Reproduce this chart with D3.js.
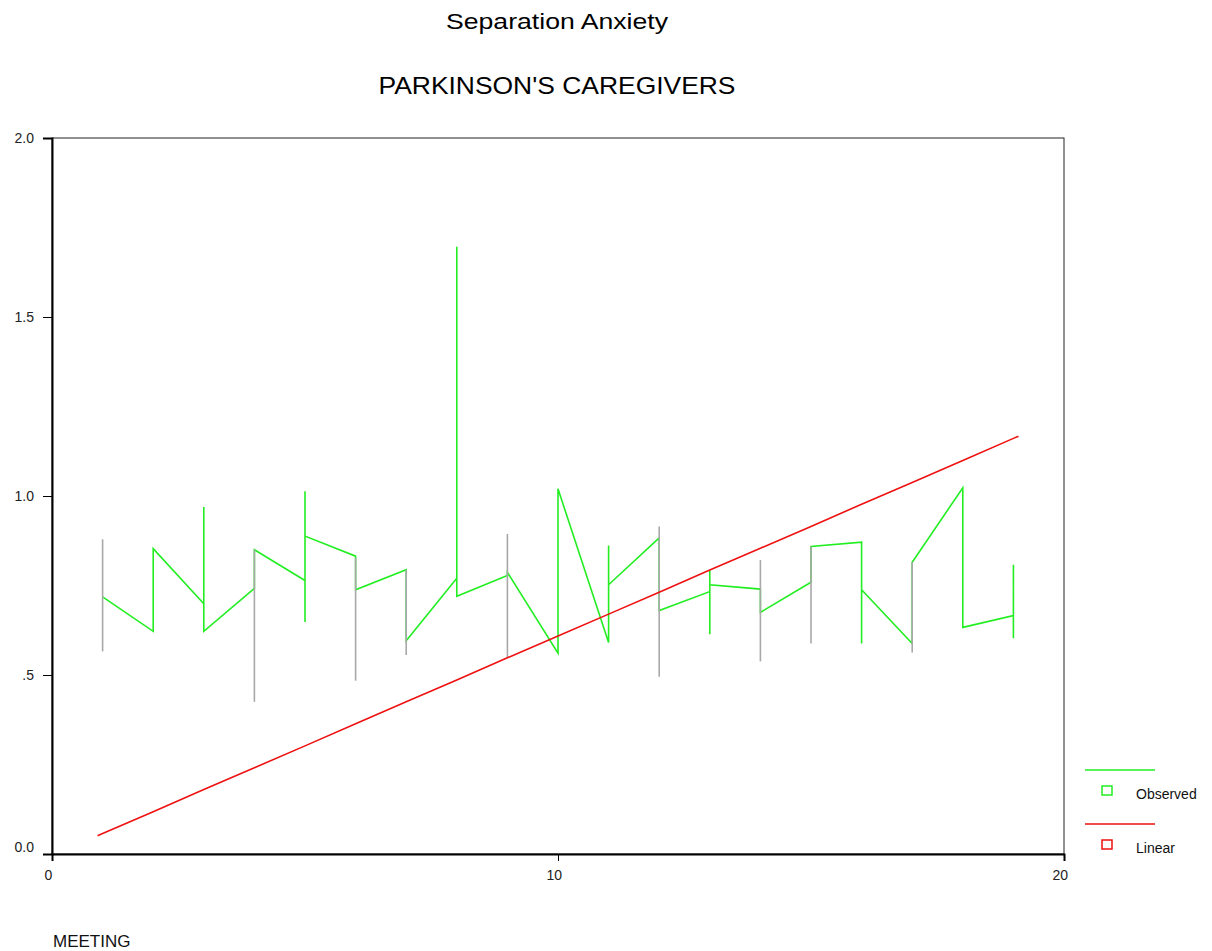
<!DOCTYPE html>
<html>
<head>
<meta charset="utf-8">
<style>
  body { margin: 0; background: #fff; }
  svg { font-family: "Liberation Sans", Arial, sans-serif; }
</style>
</head>
<body>
<div id="container"></div>
<script src="https://d3js.org/d3.v7.js"></script>
<script>
// Observed curve: cases in file order (several per meeting)
const obsMeeting = [1, 2, 2, 3, 3, 3, 4, 4, 5, 5, 5, 5, 6, 6, 7, 7, 8, 8, 8, 9, 9, 10, 10,
  11, 11, 11, 12, 12, 13, 13, 13, 13, 14, 14, 15, 15, 16, 16, 16, 17, 17, 18, 18, 19, 19, 19];
const obsValue = [0.718, 0.622, 0.853, 0.699, 0.969, 0.622, 0.742, 0.850, 0.764, 1.013, 0.648, 0.888,
  0.832, 0.738, 0.794, 0.596, 0.770, 1.696, 0.720, 0.778, 0.787, 0.561, 1.020,
  0.591, 0.862, 0.752, 0.883, 0.680, 0.733, 0.614, 0.792, 0.752, 0.740, 0.675,
  0.759, 0.859, 0.871, 0.588, 0.738, 0.588, 0.815, 1.023, 0.633, 0.666, 0.808, 0.603];

// high-low lines shown in grey
const rangeMeeting = [1, 4, 6, 7, 9, 12, 14, 15, 17];
const rangeLow = [0.566, 0.425, 0.484, 0.556, 0.549, 0.495, 0.538, 0.588, 0.563];
const rangeHigh = [0.879, 0.850, 0.827, 0.794, 0.894, 0.915, 0.821, 0.859, 0.815];

// Linear fit
const fitMeeting = [0.9, 1, 2, 3, 4, 5, 6, 7, 8, 9, 10, 11, 12, 13, 14, 15, 16, 17, 18, 19, 19.1];
const fitValue = [0.051, 0.057, 0.118, 0.180, 0.241, 0.302, 0.364, 0.425, 0.486, 0.548, 0.609,
  0.670, 0.731, 0.793, 0.854, 0.915, 0.977, 1.038, 1.099, 1.161, 1.167];

const xTicks = [0, 10, 20];
const yTicks = [0, 0.5, 1.0, 1.5, 2.0];
const yTickLabels = ["0.0", ".5", "1.0", "1.5", "2.0"];

const width = 1212;
const height = 951;
const marginLeft = 52;
const marginRight = 148;
const marginTop = 138;
const marginBottom = 97;

const x = d3.scaleLinear().domain([0, 20]).range([marginLeft, width - marginRight]);
const y = d3.scaleLinear().domain([0, 2]).range([height - marginBottom, marginTop]);

const svg = d3.create("svg")
    .attr("width", width)
    .attr("height", height);

// titles
svg.append("text")
    .attr("x", 557).attr("y", 29)
    .attr("text-anchor", "middle")
    .attr("font-size", 22)
    .attr("textLength", 222)
    .attr("lengthAdjust", "spacingAndGlyphs")
    .text("Separation Anxiety");
svg.append("text")
    .attr("x", 557).attr("y", 94)
    .attr("text-anchor", "middle")
    .attr("font-size", 24)
    .attr("textLength", 357)
    .attr("lengthAdjust", "spacingAndGlyphs")
    .text("PARKINSON'S CAREGIVERS");

// frame
svg.append("rect")
    .attr("x", x(0)).attr("y", y(2))
    .attr("width", x(20) - x(0)).attr("height", y(0) - y(2))
    .attr("fill", "none")
    .attr("stroke", "#222")
    .attr("stroke-width", 1);

// y axis
svg.append("g")
    .attr("transform", `translate(${x(0)},0)`)
    .call(d3.axisLeft(y).tickValues(yTicks).tickSize(9).tickPadding(9)
      .tickFormat((d, i) => yTickLabels[i]))
    .call(g => g.select(".domain").attr("stroke-width", 2))
    .call(g => g.selectAll(".tick text").attr("font-size", 14).attr("fill", "#222")
      .attr("font-family", "Liberation Sans, Arial, sans-serif")
      .attr("dy", d => d === 0 ? "-0.2em" : "0.32em"));

// x axis
svg.append("g")
    .attr("transform", `translate(0,${y(0)})`)
    .call(d3.axisBottom(x).tickValues(xTicks).tickSize(7).tickPadding(9).tickFormat(d3.format("d")))
    .call(g => g.select(".domain").attr("stroke-width", 2))
    .call(g => g.selectAll(".tick text").attr("font-size", 14).attr("fill", "#222")
      .attr("dx", "-0.3em")
      .attr("font-family", "Liberation Sans, Arial, sans-serif"));

svg.append("text")
    .attr("x", x(0) + 1).attr("y", 947)
    .attr("font-size", 17)
    .attr("fill", "#111")
    .text("MEETING");

// observed line
const obs = obsMeeting.map((m, i) => ({m, v: obsValue[i]}));
svg.append("path")
    .attr("fill", "none")
    .attr("stroke", "#22ee22")
    .attr("stroke-width", 1.6)
    .attr("d", d3.line().x(d => x(d.m)).y(d => y(d.v))(obs));

// grey high-low lines
svg.append("g")
    .selectAll("line")
    .data(rangeMeeting)
    .join("line")
    .attr("x1", d => x(d)).attr("x2", d => x(d))
    .attr("y1", (d, i) => y(rangeLow[i]))
    .attr("y2", (d, i) => y(rangeHigh[i]))
    .attr("stroke", "#a8a8a8")
    .attr("stroke-width", 1.6);

// linear fit
const fit = fitMeeting.map((m, i) => ({m, v: fitValue[i]}));
svg.append("path")
    .attr("fill", "none")
    .attr("stroke", "#ee1111")
    .attr("stroke-width", 1.6)
    .attr("d", d3.line().x(d => x(d.m)).y(d => y(d.v))(fit));

// legend
const legendItems = [
  {name: "Observed", color: "#22ee22", ly: 770},
  {name: "Linear", color: "#ee1111", ly: 824}
];
const legend = svg.append("g");
legend.selectAll("line")
    .data(legendItems)
    .join("line")
    .attr("x1", 1085).attr("x2", 1155)
    .attr("y1", d => d.ly).attr("y2", d => d.ly)
    .attr("stroke", d => d.color)
    .attr("stroke-width", 1.5);
legend.selectAll("rect")
    .data(legendItems)
    .join("rect")
    .attr("x", 1102).attr("y", d => d.ly + 16)
    .attr("width", 10).attr("height", 9)
    .attr("fill", "none")
    .attr("stroke", d => d.color)
    .attr("stroke-width", 1.5);
legend.selectAll("text")
    .data(legendItems)
    .join("text")
    .attr("x", 1136).attr("y", d => d.ly + 29)
    .attr("font-size", 14)
    .attr("fill", "#111")
    .text(d => d.name);

container.append(svg.node());
</script>
</body>
</html>
